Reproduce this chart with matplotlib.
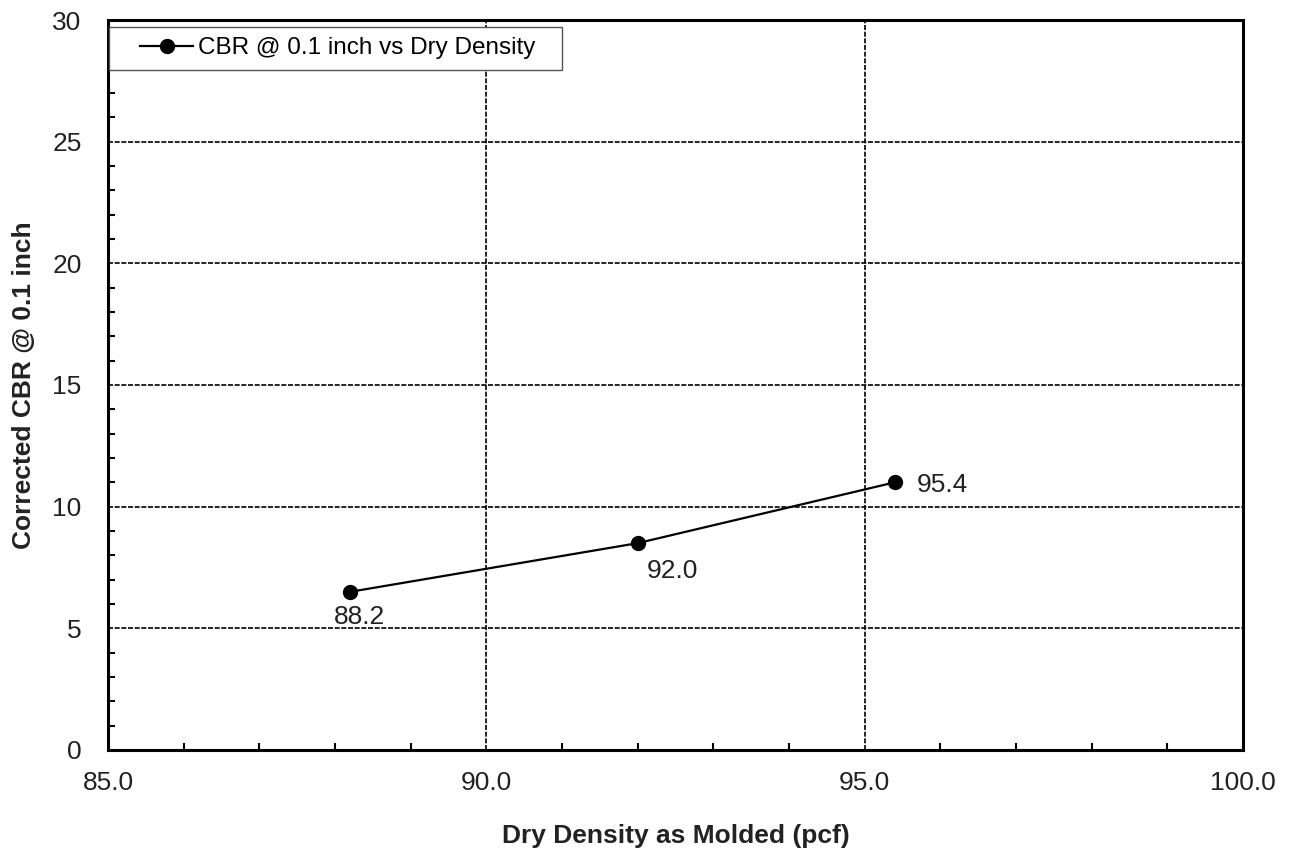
import matplotlib
matplotlib.use('Agg')
import matplotlib.pyplot as plt
from matplotlib.patches import Rectangle
from matplotlib.ticker import MultipleLocator

plt.rcParams['font.family'] = ['Liberation Sans', 'DejaVu Sans']

# CBR test results
dry_density = [88.2, 92.0, 95.4]
cbr_01 = [6.5, 8.5, 11.0]
point_labels = ['88.2', '92.0', '95.4']
label_offsets = [(-12, -18), (6.5, -20), (16, -2)]

fig = plt.figure(figsize=(12.89, 8.48), dpi=100)
ax = fig.add_axes([0.0838, 0.1156, 0.8805, 0.8608])

ax.plot(dry_density, cbr_01, color='black', lw=1.6, marker='o', ms=10,
        label='CBR @ 0.1 inch vs Dry Density', zorder=3)

for x, y, txt, off in zip(dry_density, cbr_01, point_labels, label_offsets):
    ax.annotate(txt, (x, y), xytext=off, textcoords='offset points',
                ha='left', va='center', fontsize=19, color='#222222')

ax.set_xlim(85, 100)
ax.set_ylim(0, 30)
ax.xaxis.set_major_locator(MultipleLocator(5))
ax.xaxis.set_minor_locator(MultipleLocator(1))
ax.yaxis.set_major_locator(MultipleLocator(5))
ax.yaxis.set_minor_locator(MultipleLocator(1))
ax.set_xticklabels([f'{v:.1f}' for v in ax.get_xticks()])
ax.tick_params(which='both', direction='in', labelsize=19, labelcolor='#222222')
ax.tick_params(which='major', length=0)
ax.tick_params(which='minor', length=5, width=1.5)
ax.tick_params(axis='y', which='major', pad=19)
ax.tick_params(axis='x', which='major', pad=15)

ax.grid(True, which='major', color='black', ls=(0, (3, 1)), lw=1.2)
for s in ax.spines.values():
    s.set_linewidth(2.2)

ax.set_xlabel('Dry Density as Molded (pcf)', fontsize=19, fontweight='bold',
              color='#222222', labelpad=21)
ax.set_ylabel('Corrected CBR @ 0.1 inch', fontsize=19, fontweight='bold',
              color='#222222', labelpad=12)

# legend box with wide side margins
ax.add_patch(Rectangle((0.001, 0.9315), 0.399, 0.0585, transform=ax.transAxes,
                       facecolor='white', edgecolor='#555555', lw=1, zorder=4))
leg = ax.legend(loc='center left', bbox_to_anchor=(0.028, 0.961), fontsize=17.5,
                frameon=False, handlelength=2.2, handletextpad=0.2,
                borderpad=0, borderaxespad=0)
leg.set_zorder(5)

fig.savefig('out.png', dpi=100)
